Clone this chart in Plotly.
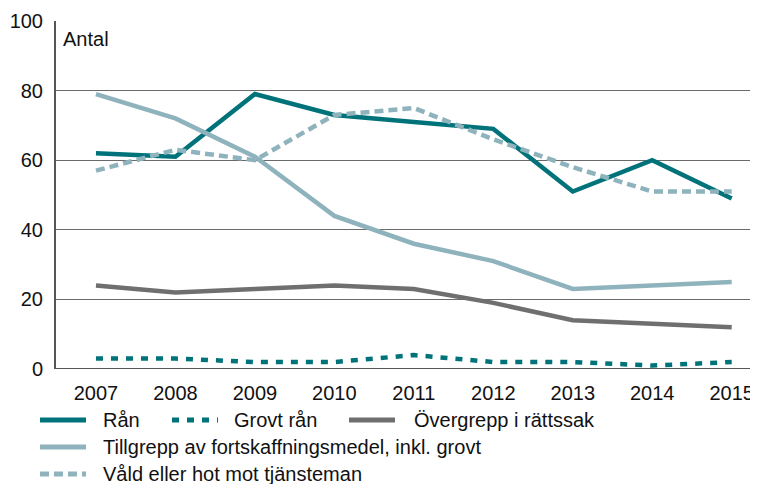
import plotly.graph_objects as go

YEARS = [2007, 2008, 2009, 2010, 2011, 2012, 2013, 2014, 2015]

RAN        = [62, 61, 79, 73, 71, 69, 51, 60, 49]
GROVT_RAN  = [3, 3, 2, 2, 4, 2, 2, 1, 2]
OVERGREPP  = [24, 22, 23, 24, 23, 19, 14, 13, 12]
TILLGREPP  = [79, 72, 61, 44, 36, 31, 23, 24, 25]
VALD       = [57, 63, 60, 73, 75, 66, 58, 51, 51]

COLOUR = {
    "teal":  "#00737a",
    "light": "#8fb3bd",
    "grey":  "#6f6f6f",
    "axis":  "#555555",
    "grid":  "#6a6a6a",
    "text":  "#111111",
}

FONT = "Liberation Sans, Arial, sans-serif"

# figure sits 8px in from the page corner (body margin), so size it to fit the window
W, H = 750, 476
M_L, M_R, M_T, M_B = 48, 0, 13, 115
PW, PH = W - M_L - M_R, H - M_T - M_B


def px_x(x):
    return (x - M_L) / PW


def px_y(y):
    return (H - M_B - y) / PH


fig = go.Figure()

# name, values, colour, dash, legend swatch x, legend text x, legend row y
series = [
    ("Rån", RAN, COLOUR["teal"], "solid", 32, 93, 412),
    ("Grovt rån", GROVT_RAN, COLOUR["teal"], "7px,8px", 164, 224, 412),
    ("Övergrepp i rättssak", OVERGREPP, COLOUR["grey"], "solid", 341, 404, 412),
    ("Tillgrepp av fortskaffningsmedel, inkl. grovt", TILLGREPP, COLOUR["light"], "solid", 32, 93, 439),
    ("Våld eller hot mot tjänsteman", VALD, COLOUR["light"], "9px,5px", 32, 93, 466),
]

shapes, annotations = [], []
for name, vals, colour, dash, sx, tx, ry in series:
    fig.add_trace(go.Scatter(
        x=YEARS, y=vals, name=name, mode="lines",
        line=dict(color=colour, width=4.5, dash=dash),
        showlegend=False,
    ))
    # hand-made legend entry (swatch + label) below the plot
    shapes.append(dict(
        type="line", xref="paper", yref="paper",
        x0=px_x(sx), x1=px_x(sx + 46), y0=px_y(ry), y1=px_y(ry),
        line=dict(color=colour, width=5, dash=dash),
    ))
    annotations.append(dict(
        text=name, xref="paper", yref="paper", x=px_x(tx), y=px_y(ry),
        xanchor="left", yanchor="middle", showarrow=False,
        font=dict(size=20, color=COLOUR["text"]),
    ))

annotations.append(dict(
    text="Antal", xref="paper", yref="paper", x=0, y=1,
    xanchor="left", yanchor="top", xshift=5, yshift=-5,
    showarrow=False, font=dict(size=20, color=COLOUR["text"]),
))

fig.update_layout(
    width=W, height=H,
    paper_bgcolor="white", plot_bgcolor="white",
    font=dict(family=FONT, size=20, color=COLOUR["text"]),
    margin=dict(l=M_L, r=M_R, t=M_T, b=M_B, autoexpand=False),
    showlegend=False,
    xaxis=dict(
        range=[2006.497, 2015.331], tickvals=YEARS, ticktext=[str(y) for y in YEARS],
        showgrid=False, zeroline=False, showline=False, ticks="",
        tickfont=dict(size=20), ticklabelstandoff=10,
    ),
    yaxis=dict(
        range=[0, 100], tickvals=[0, 20, 40, 60, 80, 100],
        showgrid=True, gridcolor=COLOUR["grid"], gridwidth=1,
        zeroline=False, showline=True, linecolor=COLOUR["axis"], linewidth=2,
        ticks="", tickfont=dict(size=20), ticklabelstandoff=7,
    ),
    shapes=shapes,
    annotations=annotations,
)

# baseline at y = 0
fig.add_hline(y=0, line_color=COLOUR["axis"], line_width=2)

fig.write_html("out.html")
